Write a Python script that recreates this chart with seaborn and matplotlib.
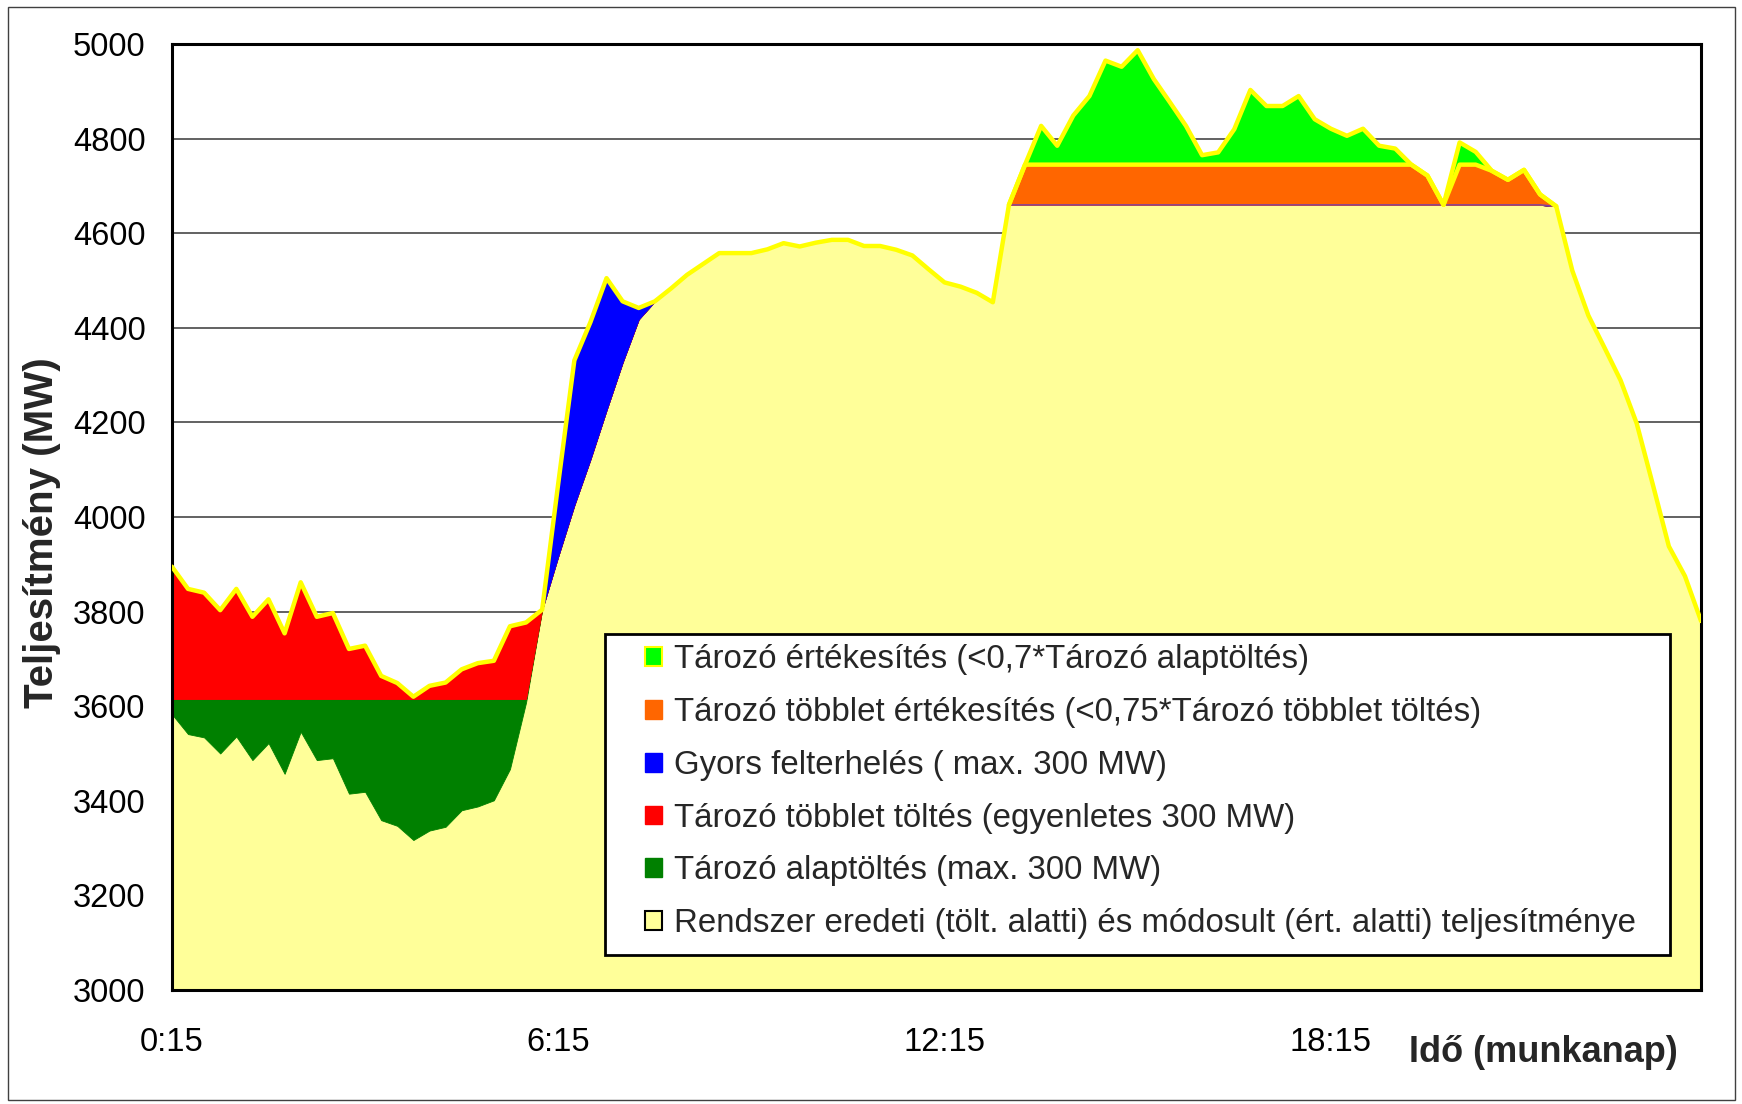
import numpy as np
import matplotlib
matplotlib.use("Agg")
import matplotlib.pyplot as plt
from matplotlib.patches import Patch, Rectangle
import seaborn as sns

# one point every 15 minutes, 0:15 ... 24:00 (96 points), values in MW
tick_labels = ["0:15", "6:15", "12:15", "18:15"]

# Rendszer eredeti (tölt. alatti) és módosult (ért. alatti) teljesítménye
rendszer = [3583, 3541, 3534, 3500, 3536, 3486, 3522, 3457, 3546, 3486, 3490, 3415,
            3419, 3359, 3347, 3317, 3337, 3345, 3380, 3388, 3401, 3467, 3608, 3804,
            3917, 4025, 4122, 4226, 4327, 4418, 4456, 4483, 4512, 4535, 4558, 4558,
            4558, 4566, 4579, 4572, 4580, 4586, 4586, 4573, 4573, 4565, 4553, 4524,
            4496, 4487, 4474, 4454, 4660, 4660, 4660, 4660, 4660, 4660, 4660, 4660,
            4660, 4660, 4660, 4660, 4660, 4660, 4660, 4660, 4660, 4660, 4660, 4660,
            4660, 4660, 4660, 4660, 4660, 4660, 4660, 4660, 4660, 4660, 4660, 4660,
            4660, 4660, 4657, 4521, 4426, 4358, 4289, 4198, 4069, 3938, 3875, 3780]

# Tározó alaptöltés (max. 300 MW)
alaptoltes = [32, 74, 81, 115, 79, 129, 93, 158, 69, 129, 125, 200,
              196, 256, 268, 298, 278, 270, 235, 227, 214, 148, 7, 0,
              0, 0, 0, 0, 0, 0, 0, 0, 0, 0, 0, 0,
              0, 0, 0, 0, 0, 0, 0, 0, 0, 0, 0, 0,
              0, 0, 0, 0, 0, 0, 0, 0, 0, 0, 0, 0,
              0, 0, 0, 0, 0, 0, 0, 0, 0, 0, 0, 0,
              0, 0, 0, 0, 0, 0, 0, 0, 0, 0, 0, 0,
              0, 0, 0, 0, 0, 0, 0, 0, 0, 0, 0, 0]

# Tározó többlet töltés (egyenletes 300 MW)
tobblet_toltes = [280, 233, 225, 188, 233, 174, 211, 139, 247, 174, 182, 106,
                  113, 49, 34, 5, 28, 35, 63, 76, 81, 154, 162, 0,
                  0, 0, 0, 0, 0, 0, 0, 0, 0, 0, 0, 0,
                  0, 0, 0, 0, 0, 0, 0, 0, 0, 0, 0, 0,
                  0, 0, 0, 0, 0, 0, 0, 0, 0, 0, 0, 0,
                  0, 0, 0, 0, 0, 0, 0, 0, 0, 0, 0, 0,
                  0, 0, 0, 0, 0, 0, 0, 0, 0, 0, 0, 0,
                  0, 0, 0, 0, 0, 0, 0, 0, 0, 0, 0, 0]

# Gyors felterhelés (max. 300 MW)
gyors = [0, 0, 0, 0, 0, 0, 0, 0, 0, 0, 0, 0,
         0, 0, 0, 0, 0, 0, 0, 0, 0, 0, 0, 0,
         154, 306, 290, 279, 129, 24, 0, 0, 0, 0, 0, 0,
         0, 0, 0, 0, 0, 0, 0, 0, 0, 0, 0, 0,
         0, 0, 0, 0, 0, 0, 0, 0, 0, 0, 0, 0,
         0, 0, 0, 0, 0, 0, 0, 0, 0, 0, 0, 0,
         0, 0, 0, 0, 0, 0, 0, 0, 0, 0, 0, 0,
         0, 0, 0, 0, 0, 0, 0, 0, 0, 0, 0, 0]

# Tározó többlet értékesítés (<0,75*Tározó többlet töltés)
tobblet_ert = [0, 0, 0, 0, 0, 0, 0, 0, 0, 0, 0, 0,
               0, 0, 0, 0, 0, 0, 0, 0, 0, 0, 0, 0,
               0, 0, 0, 0, 0, 0, 0, 0, 0, 0, 0, 0,
               0, 0, 0, 0, 0, 0, 0, 0, 0, 0, 0, 0,
               0, 0, 0, 0, 0, 85, 85, 85, 85, 85, 85, 85,
               85, 85, 85, 85, 85, 85, 85, 85, 85, 85, 85, 85,
               85, 85, 85, 85, 85, 85, 62, 0, 85, 85, 72, 53,
               74, 22, 0, 0, 0, 0, 0, 0, 0, 0, 0, 0]

# Tározó értékesítés (<0,7*Tározó alaptöltés)
ertekesites = [0, 0, 0, 0, 0, 0, 0, 0, 0, 0, 0, 0,
               0, 0, 0, 0, 0, 0, 0, 0, 0, 0, 0, 0,
               0, 0, 0, 0, 0, 0, 0, 0, 0, 0, 0, 0,
               0, 0, 0, 0, 0, 0, 0, 0, 0, 0, 0, 0,
               0, 0, 0, 0, 0, 0, 82, 40, 104, 145, 220, 207,
               242, 181, 132, 82, 20, 26, 75, 158, 124, 124, 145, 96,
               76, 61, 76, 40, 34, 0, 0, 0, 47, 27, 0, 0,
               0, 0, 0, 0, 0, 0, 0, 0, 0, 0, 0, 0]

labels = ["Tározó értékesítés (<0,7*Tározó alaptöltés)",
          "Tározó többlet értékesítés (<0,75*Tározó többlet töltés)",
          "Gyors felterhelés ( max. 300 MW)",
          "Tározó többlet töltés (egyenletes 300 MW)",
          "Tározó alaptöltés (max. 300 MW)",
          "Rendszer eredeti (tölt. alatti) és módosult (ért. alatti) teljesítménye"]

c_base = "#FFFF99"
c_alap = "#008000"
c_tobb = "#FF0000"
c_gyors = "#0000FF"
c_tobb_ert = "#FF6600"
c_ert = "#00FF00"
c_line = "#FFFF00"

sns.set_style("white")
plt.rcParams["font.family"] = ["Liberation Sans", "DejaVu Sans"]

idx = np.arange(len(rendszer))
fig = plt.figure(figsize=(17.42, 11.04), dpi=100)
ax = fig.add_axes([0.0987, 0.1033, 0.8778, 0.8568])

ax.stackplot(idx, rendszer, alaptoltes, tobblet_toltes, gyors, tobblet_ert, ertekesites,
             colors=[c_base, c_alap, c_tobb, c_gyors, c_tobb_ert, c_ert],
             linewidth=0.6, edgecolor="face", zorder=2)

total = (np.array(rendszer) + np.array(alaptoltes) + np.array(tobblet_toltes)
         + np.array(gyors) + np.array(tobblet_ert) + np.array(ertekesites))
orange_top = np.array(rendszer) + np.array(tobblet_ert)

# thin edge on the shaved base, yellow border on the sale layers and the top
ax.plot(idx[52:87], np.array(rendszer)[52:87], color="#8040A0", lw=1.0, zorder=3)
sns.lineplot(x=idx[52:87], y=orange_top[52:87], color=c_line, lw=3.2, ax=ax, zorder=4)
sns.lineplot(x=idx, y=total, color=c_line, lw=3.2, ax=ax, zorder=5)

ax.set_xlim(0, 95)
ax.set_ylim(3000, 5000)
ax.set_yticks(range(3000, 5001, 200))
xt = list(range(0, 93, 4))
ax.set_xticks(xt)
ax.set_xticklabels([tick_labels[t // 24] if t % 24 == 0 else "" for t in xt])

ax.yaxis.grid(True, color="#555555", lw=1.3)
ax.xaxis.grid(False)
ax.set_axisbelow(True)
for s in ax.spines.values():
    s.set_visible(True)
    s.set_color("black")
    s.set_linewidth(2.2)
ax.tick_params(axis="both", direction="out", length=7, width=1.3, color="black",
               labelsize=23.5, labelcolor="black")
ax.tick_params(axis="x", pad=20)
ax.tick_params(axis="y", pad=12)
ax.set_xlabel("")
ax.set_ylabel("")

# legend box
frame = Rectangle((0.2832, 0.037), 0.6965, 0.339, transform=ax.transAxes,
                  facecolor="white", edgecolor="black", lw=2, zorder=6)
ax.add_patch(frame)
handles = [Patch(facecolor=c_ert, edgecolor=c_line, lw=1.5),
           Patch(facecolor=c_tobb_ert, edgecolor=c_tobb_ert),
           Patch(facecolor=c_gyors, edgecolor=c_gyors),
           Patch(facecolor=c_tobb, edgecolor=c_tobb),
           Patch(facecolor=c_alap, edgecolor=c_alap),
           Patch(facecolor=c_base, edgecolor="black", lw=1.5)]
leg = ax.legend(handles, labels, loc="upper left", bbox_to_anchor=(0.3094, 0.3655),
                frameon=False, fontsize=23.8, borderpad=0, borderaxespad=0,
                handlelength=0.5, handleheight=0.5, handletextpad=0.37,
                labelspacing=0.66)
leg.set_zorder(7)

fig.text(42 / 1742, 1 - 533 / 1104, "Teljesítmény (MW)", rotation=90,
         fontsize=29, fontweight="bold", ha="center", va="center")
fig.text(1543 / 1742, 1 - 1052 / 1104, "Idő (munkanap)",
         fontsize=26, fontweight="bold", ha="center", va="center")

fig.patches.append(Rectangle((8 / 1742, 1 - 1100 / 1104), 1727 / 1742, 1093 / 1104,
                             transform=fig.transFigure, fill=False,
                             edgecolor="#404040", lw=1))

fig.savefig("out.png", dpi=100)
